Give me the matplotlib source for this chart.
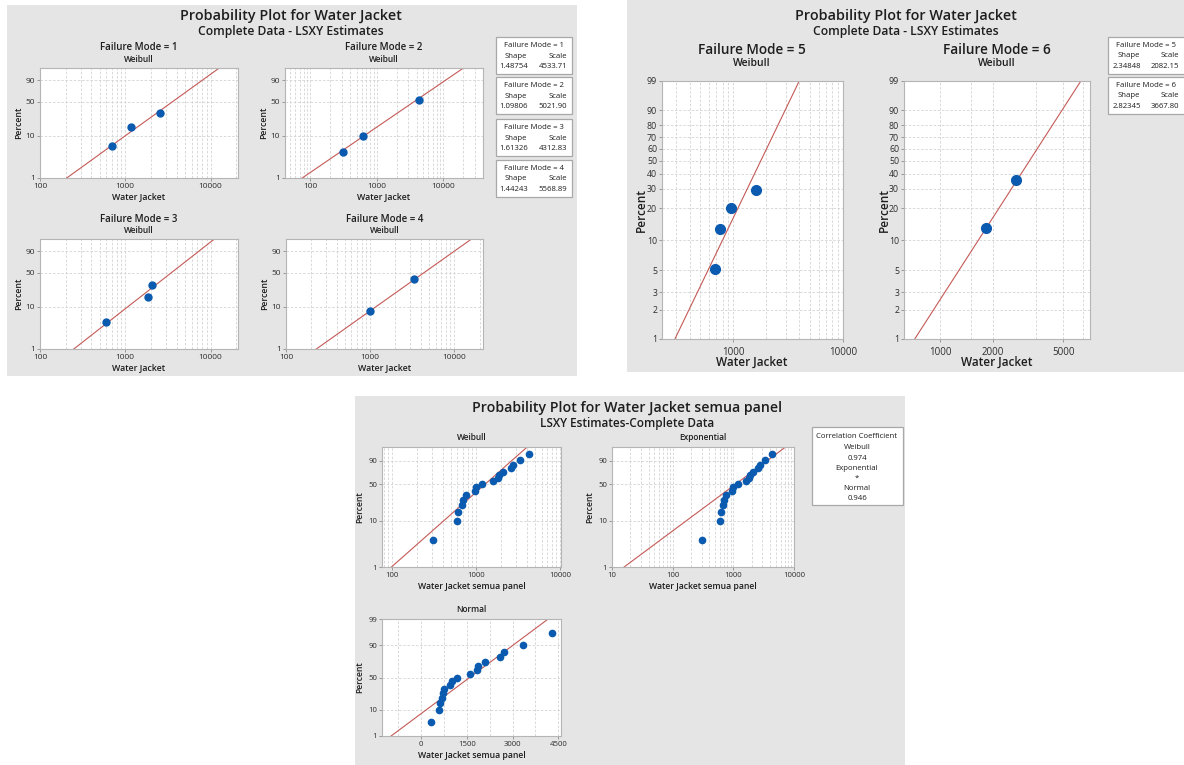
import math
import numpy as np
import matplotlib
matplotlib.use("Agg")
import matplotlib.pyplot as plt
from matplotlib.patches import Rectangle
from matplotlib.ticker import NullFormatter

plt.rcParams['font.family'] = ['Open Sans', 'DejaVu Sans']

# ---- values ----
# Water Jacket failure times and plotted percent, one pair of lists per failure mode
fm1_x = [700, 1180, 2580]
fm1_pct = [5.7, 15.5, 32.0]
fm2_x = [310, 615, 4300]
fm2_pct = [4.1, 9.9, 54.6]
fm3_x = [595, 1850, 2080]
fm3_pct = [4.5, 16.8, 30.5]
fm4_x = [1000, 3350]
fm4_pct = [8.0, 38.7]
fm5_x = [680, 750, 960, 1600]
fm5_pct = [5.2, 12.8, 20.3, 29.2]
fm6_x = [1820, 2710]
fm6_pct = [13.1, 35.3]

# LSXY estimates (from the tables)
fm_names = ['1', '2', '3', '4', '5', '6']
fm_shape = [1.48754, 1.09806, 1.61326, 1.44243, 2.34848, 2.82345]
fm_scale = [4533.71, 5021.90, 4312.83, 5568.89, 2082.15, 3667.80]

# "semua panel" plot: all failure times pooled
all_pct = [4.0, 9.8, 15.5, 21.3, 27.0, 32.8, 38.5, 44.3, 50.0,
           55.7, 61.5, 67.2, 73.0, 78.7, 84.5, 90.2, 96.0]
all_wb_shape, all_wb_scale = 1.65, 1600
all_exp_scale = 1575
all_mu, all_sigma = 1588, 1109
corr_names = ['Weibull', 'Exponential', 'Normal']
corr_vals = ['0.974', '*', '0.946']

W, H = 1184, 765
BLUE = '#0a5aaf'
RED = '#c45a57'
TXT = '#1e1e1e'
PANEL = '#e5e5e5'
GRID = dict(color='#d3d3d3', lw=0.6, ls=(0, (3, 2)))

fig = plt.figure(figsize=(W / 100, H / 100), dpi=100)
fig.patch.set_facecolor('white')


def wb(p):
    p = np.asarray(p, dtype=float) / 100
    return np.log(-np.log(1 - p))


_z = np.linspace(-6, 6, 6001)
_cdf = 0.5 * (1 + np.array([math.erf(v / math.sqrt(2)) for v in _z]))


def nz(p):
    return np.interp(np.asarray(p, dtype=float) / 100, _cdf, _z)


def box(x0, y0, x1, y1, fc, ec='none'):
    fig.add_artist(Rectangle((x0 / W, 1 - y1 / H), (x1 - x0) / W, (y1 - y0) / H,
                             transform=fig.transFigure, fc=fc, ec=ec, lw=0.9, zorder=0))


def txt(x, y, s, size, weight='normal', ha='center', rot=0):
    fig.text(x / W, 1 - y / H, s, fontsize=size, fontweight=weight, ha=ha,
             va='center', color=TXT, rotation=rot)


def make_ax(x0, y0, x1, y1, fs):
    ax = fig.add_axes([x0 / W, 1 - y1 / H, (x1 - x0) / W, (y1 - y0) / H])
    ax.set_facecolor('white')
    for s in ax.spines.values():
        s.set_color('#b5b5b5')
        s.set_linewidth(0.8)
    ax.tick_params(which='major', length=2.5, width=0.6, color='#8c8c8c',
                   labelsize=fs, labelcolor='#2e2e2e', pad=1)
    ax.tick_params(which='minor', length=0)
    ax.set_axisbelow(True)
    return ax


def weibull_ax(rect, xlim, xticks, yticks, fs, xminor=None):
    ax = make_ax(*rect, fs)
    ax.set_xscale('log')
    ax.set_xlim(*xlim)
    ax.set_xticks(xticks)
    ax.set_xticklabels([str(t) for t in xticks])
    if xminor is not None:
        ax.set_xticks(xminor, minor=True)
    ax.xaxis.set_minor_formatter(NullFormatter())
    ax.set_ylim(wb(1), wb(99))
    ax.set_yticks(wb(yticks))
    ax.set_yticklabels([str(t) for t in yticks])
    ax.grid(True, which='both', axis='x', **GRID)
    ax.grid(True, which='major', axis='y', **GRID)
    return ax


def wb_line(ax, shape, scale):
    lo, hi = ax.get_xlim()
    xs = np.geomspace(lo, hi, 200)
    ax.plot(xs, shape * np.log(xs / scale), color=RED, lw=0.8, zorder=2)


# ================= panel A : failure modes 1-4 =================
box(7, 5, 577, 376, PANEL)
txt(291, 16, 'Probability Plot for Water Jacket', 10.4, 'semibold')
txt(291, 31, 'Complete Data - LSXY Estimates', 8.7, 'semibold')

rectsA = [(40, 68, 238, 178), (285, 68, 483, 178), (40, 239, 238, 349), (286, 239, 483, 349)]
xlimsA = [(100, 21000), (42, 39700), (100, 21000), (100, 22000)]
xticksA = [[100, 1000, 10000], [100, 1000, 10000], [100, 1000, 10000], [100, 1000, 10000]]
dataA = [(fm1_x, fm1_pct), (fm2_x, fm2_pct), (fm3_x, fm3_pct), (fm4_x, fm4_pct)]
for i in range(4):
    x0, y0, x1, y1 = rectsA[i]
    ax = weibull_ax(rectsA[i], xlimsA[i], xticksA[i], [1, 10, 50, 90], 6)
    wb_line(ax, fm_shape[i], fm_scale[i])
    ax.plot(dataA[i][0], wb(dataA[i][1]), 'o', ms=5, color=BLUE, zorder=3)
    cx = (x0 + x1) / 2
    txt(cx, y0 - 20, 'Failure Mode = ' + fm_names[i], 7, 'semibold')
    txt(cx, y0 - 8.5, 'Weibull', 6, 'semibold')
    txt(cx, y1 + 19, 'Water Jacket', 6.3, 'semibold')
    txt(x0 - 21, (y0 + y1) / 2, 'Percent', 6.3, 'semibold', rot=90)

for i, top in enumerate([37, 77, 119, 160]):
    box(496, top, 572, top + 36.5, 'white', '#a8a8a8')
    txt(534, top + 8.5, 'Failure Mode = ' + fm_names[i], 5.6)
    txt(516, top + 19, 'Shape', 5.6)
    txt(567, top + 19, 'Scale', 5.6, ha='right')
    txt(514, top + 29.5, '%.5f' % fm_shape[i], 5.6)
    txt(567, top + 29.5, '%.2f' % fm_scale[i], 5.6, ha='right')

# ================= panel B : failure modes 5-6 =================
box(627, 0, 1184, 372, PANEL)
txt(906, 16, 'Probability Plot for Water Jacket', 10.4, 'semibold')
txt(906, 31, 'Complete Data - LSXY Estimates', 8.7, 'semibold')

yticksB = [1, 2, 3, 5, 10, 20, 30, 40, 50, 60, 70, 80, 90, 99]
ax5 = weibull_ax((662, 81, 843, 339), (224, 10000), [1000, 10000], yticksB, 6.3)
wb_line(ax5, fm_shape[4], fm_scale[4])
ax5.plot(fm5_x, wb(fm5_pct), 'o', ms=7, color=BLUE, zorder=3)

ax6 = weibull_ax((904, 81, 1090, 339), (625, 7100), [1000, 2000, 5000], yticksB, 6.3,
                 xminor=[1500, 3500, 6500])
wb_line(ax6, fm_shape[5], fm_scale[5])
ax6.plot(fm6_x, wb(fm6_pct), 'o', ms=7, color=BLUE, zorder=3)

for ax, cx, px, name in [(ax5, 752, 641, '5'), (ax6, 997, 884, '6')]:
    ax.tick_params(axis='x', labelsize=7, pad=3)
    txt(cx, 50, 'Failure Mode = ' + name, 9.8, 'semibold')
    txt(cx, 64, 'Weibull', 7.5, 'semibold')
    txt(cx, 362, 'Water Jacket', 8.5, 'semibold')
    txt(px, 210, 'Percent', 8.5, 'semibold', rot=90)

for i, top in enumerate([37, 77]):
    box(1108, top, 1190, top + 36.5, 'white', '#a8a8a8')
    txt(1146, top + 8.5, 'Failure Mode = ' + fm_names[4 + i], 5.6)
    txt(1129, top + 18.5, 'Shape', 5.6)
    txt(1179, top + 18.5, 'Scale', 5.6, ha='right')
    txt(1127, top + 29, '%.5f' % fm_shape[4 + i], 5.6)
    txt(1179, top + 29, '%.2f' % fm_scale[4 + i], 5.6, ha='right')

# ================= panel C : all panels pooled =================
box(355, 396, 905, 765, PANEL)
txt(627, 408, 'Probability Plot for Water Jacket semua panel', 10.2, 'semibold')
txt(627, 423, 'LSXY Estimates-Complete Data', 8.5, 'semibold')

all_x = np.sort(np.concatenate([fm1_x, fm2_x, fm3_x, fm4_x, fm5_x, fm6_x]))

axw = weibull_ax((382, 447, 561, 567), (76, 10200), [100, 1000, 10000], [1, 10, 50, 90], 5.6)
wb_line(axw, all_wb_shape, all_wb_scale)
axw.plot(all_x, wb(all_pct), 'o', ms=4.5, color=BLUE, zorder=3)

axe = weibull_ax((612, 447, 794, 567), (10, 10000), [10, 100, 1000, 10000], [1, 10, 50, 90], 5.6)
wb_line(axe, 1.0, all_exp_scale)
axe.plot(all_x, wb(all_pct), 'o', ms=4.5, color=BLUE, zorder=3)

axn = make_ax(382, 619, 561, 736, 5.6)
axn.set_xlim(-1290, 4590)
axn.set_xticks([0, 1500, 3000, 4500])
axn.set_xticks([-750, 750, 2250, 3750], minor=True)
axn.set_ylim(nz(1), nz(99))
axn.set_yticks(nz([1, 10, 50, 90, 99]))
axn.set_yticklabels(['1', '10', '50', '90', '99'])
axn.grid(True, which='both', axis='x', **GRID)
axn.grid(True, which='major', axis='y', **GRID)
xs = np.linspace(-1290, 4590, 50)
axn.plot(xs, (xs - all_mu) / all_sigma, color=RED, lw=0.8, zorder=2)
axn.plot(all_x, nz(all_pct), 'o', ms=4.5, color=BLUE, zorder=3)

for (x0, y0, x1, y1), name in [((382, 447, 561, 567), 'Weibull'),
                               ((612, 447, 794, 567), 'Exponential'),
                               ((382, 619, 561, 736), 'Normal')]:
    cx = (x0 + x1) / 2
    txt(cx, y0 - 9, name, 6, 'semibold')
    txt(cx, y1 + 19.5, 'Water Jacket semua panel', 6.2, 'semibold')
    txt(x0 - 22, (y0 + y1) / 2, 'Percent', 6.2, 'semibold', rot=90)

box(812, 427, 903, 505, 'white', '#a8a8a8')
txt(857, 437, 'Correlation Coefficient', 5.6)
yy = 447.5
for n, v in zip(corr_names, corr_vals):
    txt(857, yy, n, 5.6)
    txt(857, yy + 10.5, v, 5.6)
    yy += 20.5

fig.savefig('out.png', dpi=100, facecolor='white')
